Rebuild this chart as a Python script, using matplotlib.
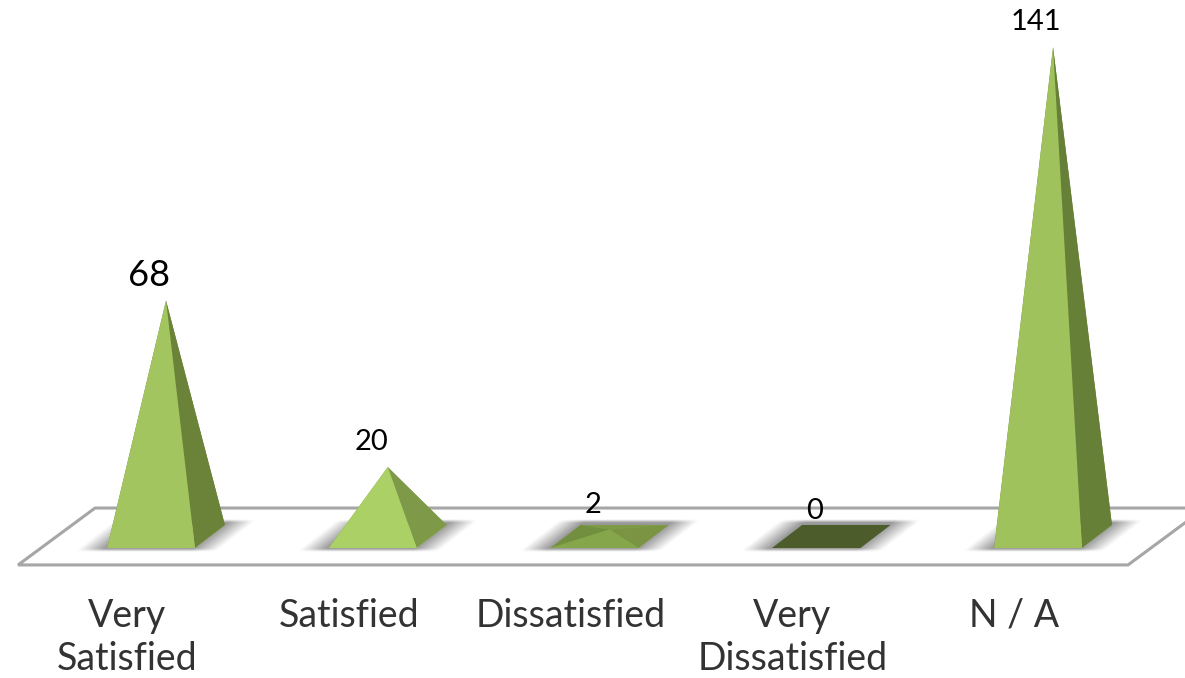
# -*- coding:utf-8 -*
import numpy as np
from matplotlib import pyplot as plt
from matplotlib.patches import Polygon

''' Dados do grafico '''
categorias = ["Very\nSatisfied", "Satisfied", "Dissatisfied", "Very\nDissatisfied", "N / A"]
valores = [68, 20, 2, 0, 141]

corFrente = ["#a3c560", "#abd166", "#86a64c", "#4c5c2b", "#a0c25d"]
corLado = ["#6b8339", "#7e9a49", "#7b9443", "#4c5c2b", "#678037"]
corEsquerda = ["#6b8339", "#7e9a49", "#728e3f", "#4c5c2b", "#678037"]
corFundo = ["#6b8339", "#7e9a49", "#7f9b46", "#4c5c2b", "#678037"]
tamanhoRotulo = [26, 21, 21, 21, 21]

''' Geometria da base das piramides, em unidades dos eixos '''
meiaLargura = 0.198
meiaProf = 3.3
desvio = 0.0676

fig = plt.figure(figsize=(11.85, 6.78), dpi=100)
ax = fig.add_axes([0, 0, 1, 1])
ax.axis('off')

# Piso do grafico
pisoY = 8.2
piso = Polygon([(-0.667, -pisoY), (4.338, -pisoY), (4.685, pisoY), (-0.32, pisoY)],
               closed=True, facecolor='white', edgecolor='#a6a6a6', linewidth=2.2, zorder=1)
ax.add_patch(piso)

# Sombra de cada piramide
def sombra(centro):
    xs = np.linspace(centro - 0.45, centro + 0.45, 240)
    ys = np.linspace(-meiaProf - 1.6, meiaProf + 1.6, 60)
    gx, gy = np.meshgrid(xs, ys)
    cx = gx - centro - gy / meiaProf * desvio
    fadeX = np.clip((meiaLargura + 0.12 - np.abs(cx)) / 0.12, 0, 1)
    fadeY = np.clip((meiaProf + 1.3 - np.abs(gy)) / 0.9, 0, 1)
    rgba = np.zeros(gx.shape + (4,))
    rgba[..., :3] = 0.58
    rgba[..., 3] = 0.95 * fadeX * fadeY
    ax.imshow(rgba, extent=(xs[0], xs[-1], ys[0], ys[-1]), origin='lower',
              aspect='auto', zorder=2, interpolation='bilinear')

# Piramides desenhadas de tras para frente
for i, v in enumerate(valores):
    sombra(i)
    fe = (i - meiaLargura - desvio, -meiaProf)
    fd = (i + meiaLargura - desvio, -meiaProf)
    te = (i - meiaLargura + desvio, meiaProf)
    td = (i + meiaLargura + desvio, meiaProf)
    topo = (i, v)
    ax.add_patch(Polygon([fe, fd, td, te], closed=True, facecolor=corFrente[i], edgecolor='none', zorder=3))
    ax.add_patch(Polygon([te, td, topo], closed=True, facecolor=corFundo[i], edgecolor='none', zorder=3))
    ax.add_patch(Polygon([fe, te, topo], closed=True, facecolor=corEsquerda[i], edgecolor='none', zorder=3))
    ax.add_patch(Polygon([fd, td, topo], closed=True, facecolor=corLado[i], edgecolor='none', zorder=3))
    ax.add_patch(Polygon([fe, fd, topo], closed=True, facecolor=corFrente[i], edgecolor='none', zorder=3))
    # Rotulo de valor acima do vertice
    ax.annotate(str(v), xy=topo, xytext=(-12, 18), textcoords='offset points',
                ha='center', va='center', fontsize=tamanhoRotulo[i],
                family='Lato', color='black', zorder=5)

# Nomes das categorias
for i, nome in enumerate(categorias):
    ax.text(i - 0.175, -17.6, nome, ha='center', va='top', fontsize=27, family='Lato',
            color='#333333', linespacing=1.26, zorder=5)

ax.set_xlim(-0.7486, 4.595)
ax.set_ylim(-40.78, 154.6)
fig.savefig('out.png', dpi=100, facecolor='white')
